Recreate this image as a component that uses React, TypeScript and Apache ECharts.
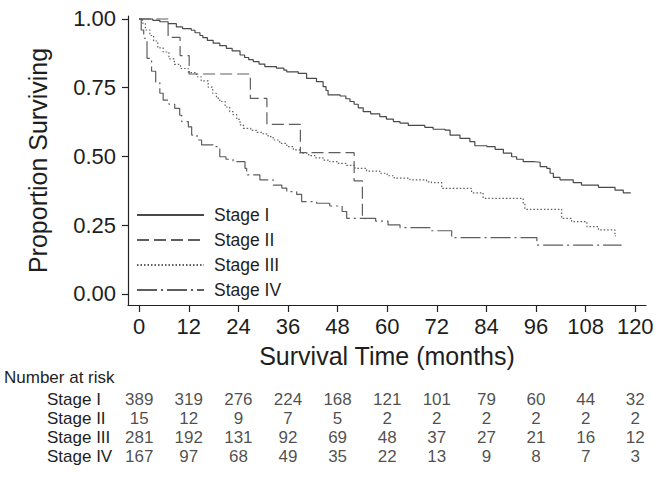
import React, { useEffect, useRef } from "react";
import * as echarts from "echarts";

const FONT = "'Liberation Sans', Arial, Helvetica, sans-serif";

const xTicks = [0, 12, 24, 36, 48, 60, 72, 84, 96, 108, 120];
const yTicks = [0, 0.25, 0.5, 0.75, 1];
const stageNames = ["Stage I", "Stage II", "Stage III", "Stage IV"];

// Kaplan-Meier steps: [month, proportion surviving after the step]
const stageI: [number, number][] = [
  [0, 1], [3.3, 0.995], [5, 0.99], [7, 0.983], [9, 0.971], [10.5, 0.965], [12.6, 0.959],
  [13.5, 0.95], [14.7, 0.94], [15.4, 0.932], [16.5, 0.922], [17.9, 0.912], [19.5, 0.903],
  [21.1, 0.893], [22.5, 0.884], [24.4, 0.869], [25.5, 0.86], [26.5, 0.852], [27.6, 0.845],
  [29, 0.836], [30.4, 0.827], [33.2, 0.821], [35, 0.814], [35.7, 0.808], [38.5, 0.802],
  [40.5, 0.784], [42.9, 0.772], [44.5, 0.754], [45.2, 0.74], [45.7, 0.724], [48.6, 0.72],
  [50, 0.71], [51, 0.7], [52, 0.69], [53, 0.677], [54.2, 0.663], [56, 0.655], [58.2, 0.645],
  [59.8, 0.636], [61.5, 0.627], [63.1, 0.621], [65.1, 0.613], [69.1, 0.606], [71.1, 0.599],
  [74, 0.596], [75.2, 0.578], [77.6, 0.566], [80, 0.554], [81.2, 0.539], [84.1, 0.536],
  [86.1, 0.526], [88.1, 0.512], [90.1, 0.499], [91.3, 0.49], [92.9, 0.481], [95.7, 0.479],
  [97, 0.463], [98.6, 0.457], [99.4, 0.439], [100.2, 0.424], [101.8, 0.415], [105, 0.405],
  [107, 0.396], [111.1, 0.388], [115.1, 0.378], [117.1, 0.368], [118.9, 0.366],
];

const stageII: [number, number][] = [
  [0, 1], [7, 0.933], [9.9, 0.867], [12.1, 0.8], [26.9, 0.711], [30.9, 0.617],
  [39, 0.514], [52, 0.411], [54, 0.274], [54.8, 0.274],
];

const stageIII: [number, number][] = [
  [0, 1], [0.8, 0.985], [1.5, 0.96], [2.6, 0.94], [3.5, 0.92], [4.5, 0.895], [5.8, 0.88],
  [7.2, 0.855], [8.5, 0.835], [10, 0.82], [11.9, 0.805], [13.9, 0.79], [15, 0.775],
  [16.7, 0.752], [17.8, 0.73], [18.7, 0.712], [19.5, 0.7], [20.8, 0.68], [21.9, 0.663],
  [22.7, 0.652], [23.6, 0.635], [24.4, 0.615], [25.2, 0.602], [27, 0.595], [28.5, 0.588],
  [30, 0.582], [31.2, 0.572], [32.4, 0.56], [34, 0.548], [35.7, 0.536], [37.3, 0.524],
  [38.9, 0.512], [41, 0.503], [42.5, 0.495], [44.5, 0.487], [46.1, 0.481], [48, 0.475],
  [50, 0.468], [52.2, 0.457], [55, 0.447], [58.2, 0.439], [60, 0.43], [61.7, 0.421],
  [65.5, 0.415], [69.5, 0.408], [70.7, 0.405], [73.2, 0.384], [80.4, 0.368], [83.2, 0.348],
  [92.9, 0.33], [93.3, 0.308], [102.2, 0.275], [104.6, 0.263], [108.3, 0.245],
  [111.1, 0.233], [115.1, 0.211], [115.3, 0.211],
];

const stageIV: [number, number][] = [
  [0, 1], [0.5, 0.96], [1.1, 0.93], [1.9, 0.857], [3, 0.81], [4, 0.77], [5, 0.73],
  [5.8, 0.705], [7.2, 0.69], [8.6, 0.675], [9.8, 0.65], [10.3, 0.627], [11.9, 0.608],
  [12.7, 0.578], [14, 0.56], [15.1, 0.542], [17.9, 0.536], [19.5, 0.499], [21, 0.49],
  [22.7, 0.481], [25.6, 0.457], [26, 0.433], [29.2, 0.415], [32.4, 0.396], [34.5, 0.385],
  [35.7, 0.372], [38.1, 0.362], [39.3, 0.336], [42.9, 0.33], [46.1, 0.32], [49.1, 0.3],
  [50.2, 0.275], [57.2, 0.265], [60.2, 0.251], [63.1, 0.241], [70.7, 0.23], [75.6, 0.205],
  [96.2, 0.178], [116.7, 0.178],
];

const riskStageI = [389, 319, 276, 224, 168, 121, 101, 79, 60, 44, 32];
const riskStageII = [15, 12, 9, 7, 5, 2, 2, 2, 2, 2, 2];
const riskStageIII = [281, 192, 131, 92, 69, 48, 37, 27, 21, 16, 12];
const riskStageIV = [167, 97, 68, 49, 35, 22, 13, 9, 8, 7, 3];

const curves = [stageI, stageII, stageIII, stageIV];
const risks = [riskStageI, riskStageII, riskStageIII, riskStageIV];
const dashTypes: any[] = ["solid", [12, 5], [1.5, 2], [20, 4, 2, 4]];

const X_MIN = -2.7;
const X_MAX = 122.6;

export default function App() {
  const ref = useRef<HTMLDivElement>(null);

  useEffect(() => {
    if (!ref.current) return;
    const chart = echarts.init(ref.current, null, { renderer: "svg" });
    const textColor = "#1e1e1e";
    const axisColor = "#222";

    const lineSeries = curves.map((data, i) => ({
      name: stageNames[i],
      type: "line",
      step: "end",
      symbol: "none",
      xAxisIndex: 0,
      yAxisIndex: 0,
      data,
      lineStyle: { color: i === 0 ? "#4a4a4a" : "#5e5e5e", width: 1.2, type: dashTypes[i] },
      itemStyle: { color: i === 0 ? "#4a4a4a" : "#5e5e5e" },
      z: 5 - i,
    }));

    const riskSeries = risks.map((vals, i) => ({
      name: "risk " + stageNames[i],
      type: "scatter",
      xAxisIndex: 1,
      yAxisIndex: 1,
      symbolSize: 1,
      itemStyle: { color: "rgba(0,0,0,0)" },
      data: vals.map((n, j) => [xTicks[j], stageNames[i], n]),
      label: {
        show: true,
        position: "inside",
        formatter: (p: any) => String(p.value[2]),
        fontSize: 17,
        color: textColor,
        fontFamily: FONT,
      },
    }));

    chart.setOption({
      animation: false,
      backgroundColor: "#ffffff",
      textStyle: { fontFamily: FONT },
      title: {
        text: "Number at risk",
        left: 4,
        top: 369,
        padding: 0,
        textStyle: { fontSize: 17, fontWeight: "normal", color: textColor, fontFamily: FONT },
      },
      legend: {
        data: stageNames,
        orient: "vertical",
        left: 136,
        top: 206,
        padding: 0,
        itemWidth: 67,
        itemHeight: 14,
        itemGap: 7,
        selectedMode: false,
        itemStyle: { color: "rgba(0,0,0,0)", borderColor: "rgba(0,0,0,0)", borderWidth: 0, opacity: 0 },
        textStyle: { fontSize: 17.5, color: textColor, fontFamily: FONT, padding: [0, 0, 0, 5] },
      },
      grid: [
        { left: 128, top: 16, width: 518, height: 289, containLabel: false, outerBoundsMode: "none" },
        { left: 128, top: 390, width: 518, height: 76, containLabel: false, outerBoundsMode: "none" },
      ],
      xAxis: [
        {
          type: "value",
          gridIndex: 0,
          min: X_MIN,
          max: X_MAX,
          name: "Survival Time (months)",
          nameLocation: "middle",
          nameGap: 38,
          nameTextStyle: { fontSize: 25, color: textColor, fontFamily: FONT },
          axisLine: { show: true, onZero: false, lineStyle: { color: axisColor, width: 1.2 } },
          axisTick: { show: true, length: 7, customValues: xTicks, lineStyle: { color: axisColor, width: 1.2 } },
          axisLabel: { customValues: xTicks, fontSize: 22, color: textColor, margin: 10, fontFamily: FONT },
          splitLine: { show: false },
        },
        {
          type: "value",
          gridIndex: 1,
          min: X_MIN,
          max: X_MAX,
          show: false,
        },
      ],
      yAxis: [
        {
          type: "value",
          gridIndex: 0,
          min: -0.04,
          max: 1.0109,
          name: "Proportion Surviving",
          nameLocation: "middle",
          nameGap: 78,
          nameTextStyle: { fontSize: 25, color: textColor, fontFamily: FONT },
          axisLine: { show: true, onZero: false, lineStyle: { color: axisColor, width: 1.2 } },
          axisTick: { show: true, length: 6, customValues: yTicks, lineStyle: { color: axisColor, width: 1.2 } },
          axisLabel: {
            customValues: yTicks,
            fontSize: 22,
            color: textColor,
            margin: 12,
            fontFamily: FONT,
            formatter: (v: number) => v.toFixed(2),
          },
          splitLine: { show: false },
        },
        {
          type: "category",
          gridIndex: 1,
          data: stageNames,
          inverse: true,
          axisLine: { show: false },
          axisTick: { show: false },
          splitLine: { show: false },
          axisLabel: { interval: 0, align: "left", margin: 81, fontSize: 17, color: textColor, fontFamily: FONT },
        },
      ],
      series: [...lineSeries, ...riskSeries],
    });

    return () => chart.dispose();
  }, []);

  return (
    <div
      ref={ref}
      style={{ position: "fixed", left: 0, top: 0, width: 664, height: 489, background: "#fff" }}
    />
  );
}
